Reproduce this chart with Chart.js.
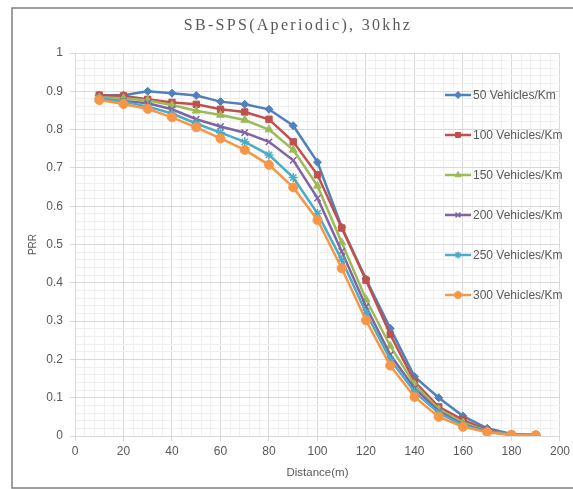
<!DOCTYPE html>
<html>
<head>
<meta charset="utf-8">
<script src="https://cdn.jsdelivr.net/npm/chart.js@4/dist/chart.umd.min.js"></script>
<style>
  html, body { margin: 0; padding: 0; background: #fff; }
  #wrap { width: 573px; height: 489px; }
</style>
</head>
<body>
<div id="wrap"><canvas id="c" width="573" height="489"></canvas></div>
<script>
const chartTitle = "SB-SPS(Aperiodic), 30khz";
const xAxisTitle = "Distance(m)";
const yAxisTitle = "PRR";
const distances = [10,20,30,40,50,60,70,80,90,100,110,120,130,140,150,160,170,180,190];
const seriesNames = ["50 Vehicles/Km","100 Vehicles/Km","150 Vehicles/Km","200 Vehicles/Km","250 Vehicles/Km","300 Vehicles/Km"];
const s50  = [0.890,0.890,0.900,0.895,0.889,0.873,0.866,0.853,0.810,0.715,0.545,0.410,0.281,0.155,0.100,0.052,0.020,0.005,0.003];
const s100 = [0.890,0.888,0.879,0.871,0.866,0.853,0.846,0.827,0.768,0.682,0.543,0.407,0.265,0.142,0.076,0.042,0.015,0.004,0.002];
const s150 = [0.884,0.882,0.876,0.864,0.849,0.838,0.825,0.800,0.747,0.653,0.505,0.357,0.235,0.135,0.070,0.035,0.013,0.004,0.002];
const s200 = [0.879,0.875,0.869,0.853,0.827,0.808,0.792,0.768,0.720,0.621,0.482,0.338,0.212,0.125,0.065,0.030,0.012,0.003,0.002];
const s250 = [0.882,0.873,0.860,0.842,0.816,0.792,0.768,0.734,0.675,0.581,0.460,0.322,0.200,0.115,0.060,0.028,0.011,0.003,0.002];
const s300 = [0.877,0.867,0.854,0.832,0.806,0.777,0.747,0.708,0.649,0.564,0.438,0.302,0.184,0.102,0.050,0.024,0.010,0.003,0.002];
const xTickLabels = [0,20,40,60,80,100,120,140,160,180,200];
const yTickLabels = [0,0.1,0.2,0.3,0.4,0.5,0.6,0.7,0.8,0.9,1];

const seriesValues = [s50, s100, s150, s200, s250, s300];
const colors = ["#4F81BD","#C0504D","#9BBB59","#8064A2","#4BACC6","#F79646"];
const styles = ["rectRot","rect","triangle","crossRot","star","circle"];
const radii = [4,4.5,4.5,4.5,4.5,4.5];

const datasets = seriesValues.map((vals, i) => ({
  label: seriesNames[i],
  data: vals.map((v, j) => ({x: distances[j], y: v})),
  borderColor: colors[i],
  backgroundColor: colors[i],
  borderWidth: 2.5,
  pointStyle: styles[i],
  pointRadius: radii[i],
  pointBorderWidth: (styles[i] === 'crossRot' || styles[i] === 'star') ? 1.5 : 1,
  pointBorderColor: colors[i],
  pointBackgroundColor: colors[i],
  tension: 0,
  order: seriesValues.length - i
}));

const isMajor = (v, step) => Math.abs(v / step - Math.round(v / step)) < 1e-6;
const GRID_MAJOR = '#d9d9d9';
const GRID_MINOR = '#efefef';
const TEXT = '#595959';

const framePlugin = {
  id: 'frame',
  beforeDraw(chart) {
    const ctx = chart.ctx;
    ctx.save();
    ctx.fillStyle = '#ffffff';
    ctx.fillRect(0, 0, chart.width, chart.height);
    ctx.strokeStyle = '#7f7f7f';
    ctx.lineWidth = 1.5;
    ctx.strokeRect(12, 8, 640, 480);
    ctx.restore();
  },
  afterDraw(chart) {
    const ctx = chart.ctx;
    // title
    ctx.save();
    ctx.font = '16px "Liberation Serif", serif';
    ctx.fillStyle = TEXT;
    ctx.textAlign = 'center';
    ctx.textBaseline = 'middle';
    if ('letterSpacing' in ctx) ctx.letterSpacing = '2.3px';
    ctx.fillText(chartTitle, 298, 26);
    ctx.restore();
    // legend inside plot area
    ctx.save();
    chart.data.datasets.forEach((ds, i) => {
      const y = 95 + i * 40;
      ctx.strokeStyle = ds.borderColor;
      ctx.lineWidth = 2.5;
      ctx.beginPath();
      ctx.moveTo(445, y);
      ctx.lineTo(471, y);
      ctx.stroke();
      ctx.fillStyle = ds.pointBackgroundColor;
      ctx.strokeStyle = ds.pointBorderColor;
      ctx.lineWidth = ds.pointBorderWidth;
      Chart.helpers.drawPoint(ctx, {pointStyle: ds.pointStyle, radius: 3.5, rotation: 0, borderWidth: ds.pointBorderWidth}, 458, y);
      ctx.font = '12px "Liberation Sans", Arial, sans-serif';
      ctx.fillStyle = TEXT;
      ctx.textAlign = 'left';
      ctx.textBaseline = 'middle';
      ctx.fillText(ds.label, 473, y + 0.5);
    });
    ctx.restore();
  }
};

new Chart(document.getElementById('c'), {
  type: 'line',
  data: { datasets },
  plugins: [framePlugin],
  options: {
    responsive: false,
    animation: false,
    devicePixelRatio: 1,
    layout: { padding: { left: 14, right: 12, top: 53, bottom: 6 } },
    plugins: {
      legend: { display: false },
      title: { display: false },
      tooltip: { enabled: false }
    },
    scales: {
      x: {
        type: 'linear',
        min: 0, max: 200,
        afterFit(scale) { scale.height = 47; },
        ticks: {
          stepSize: 4,
          autoSkip: false,
          maxRotation: 0, minRotation: 0,
          padding: 3,
          color: TEXT,
          font: { family: '"Liberation Sans", Arial, sans-serif', size: 12 },
          callback: (v) => (isMajor(v, 20) && xTickLabels.includes(Math.round(v))) ? String(Math.round(v)) : ''
        },
        grid: {
          color: (c) => isMajor(c.tick.value, 20) ? GRID_MAJOR : GRID_MINOR,
          tickColor: (c) => isMajor(c.tick.value, 20) ? GRID_MAJOR : 'rgba(0,0,0,0)',
          tickLength: 5,
          lineWidth: 1
        },
        border: { color: GRID_MAJOR },
        title: {
          display: true,
          text: xAxisTitle,
          color: TEXT,
          font: { family: '"Liberation Sans", Arial, sans-serif', size: 11.5 },
          padding: { top: 0, bottom: 3 }
        }
      },
      y: {
        type: 'linear',
        min: 0, max: 1,
        afterFit(scale) { scale.width = 61; },
        ticks: {
          stepSize: 0.02,
          autoSkip: false,
          padding: 7,
          color: TEXT,
          font: { family: '"Liberation Sans", Arial, sans-serif', size: 12 },
          callback: (v) => {
            if (!isMajor(v, 0.1)) return '';
            const r = Math.round(v * 10) / 10;
            return yTickLabels.includes(r) ? String(r) : '';
          }
        },
        grid: {
          color: (c) => isMajor(c.tick.value, 0.1) ? GRID_MAJOR : GRID_MINOR,
          tickColor: (c) => isMajor(c.tick.value, 0.1) ? GRID_MAJOR : 'rgba(0,0,0,0)',
          tickLength: 5,
          lineWidth: 1
        },
        border: { color: GRID_MAJOR },
        title: {
          display: true,
          text: yAxisTitle,
          color: TEXT,
          font: { family: '"Liberation Sans", Arial, sans-serif', size: 10 },
          padding: { top: 13, bottom: 0 }
        }
      }
    }
  }
});
</script>
</body>
</html>
